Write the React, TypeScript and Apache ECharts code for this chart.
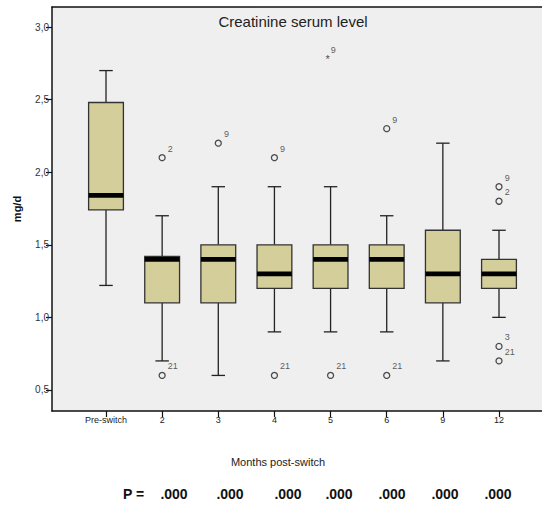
import React, { useEffect, useRef } from "react";
import * as echarts from "echarts";

const categories = ["Pre-switch", "2", "3", "4", "5", "6", "9", "12"];
const whiskerLow = [1.22, 0.7, 0.6, 0.9, 0.9, 0.9, 0.7, 1.0];
const q1 = [1.74, 1.1, 1.1, 1.2, 1.2, 1.2, 1.1, 1.2];
const median = [1.84, 1.4, 1.4, 1.3, 1.4, 1.4, 1.3, 1.3];
const q3 = [2.48, 1.42, 1.5, 1.5, 1.5, 1.5, 1.6, 1.4];
const whiskerHigh = [2.7, 1.7, 1.9, 1.9, 1.9, 1.7, 2.2, 1.6];

const outlierCat = [1, 1, 2, 3, 3, 4, 5, 5, 7, 7, 7, 7];
const outlierValue = [2.1, 0.6, 2.2, 2.1, 0.6, 0.6, 2.3, 0.6, 1.9, 1.8, 0.8, 0.7];
const outlierCase = ["2", "21", "9", "9", "21", "21", "9", "21", "9", "2", "3", "21"];

const extremeCat = [4];
const extremeValue = [2.8];
const extremeCase = ["9"];

const yTicks = [0.5, 1.0, 1.5, 2.0, 2.5, 3.0];
const pValues = [".000", ".000", ".000", ".000", ".000", ".000", ".000"];
const pCenters = [174, 230, 288, 339, 392, 445, 498];

const FONT = "'Liberation Sans', Arial, sans-serif";

export default function App() {
  const ref = useRef<HTMLDivElement>(null);
  useEffect(() => {
    if (!ref.current) return;
    const chart = echarts.init(ref.current, null, { renderer: "svg" });
    const boxData = categories.map((_, i) => [i, whiskerLow[i], q1[i], median[i], q3[i], whiskerHigh[i]]);
    const outData = outlierCat.map((c, i) => ({ value: [c, outlierValue[i]], name: outlierCase[i] }));
    const extData = extremeCat.map((c, i) => ({ value: [c, extremeValue[i]], name: extremeCase[i] }));
    const xMin = -0.962;
    const xMax = 7.766;
    const option: any = {
      animation: false,
      backgroundColor: "#ffffff",
      grid: {
        left: 52,
        right: 0,
        top: 7,
        bottom: 97,
        show: true,
        backgroundColor: "#efefef",
        borderWidth: 0,
      },
      xAxis: [
        {
          type: "value",
          min: xMin,
          max: xMax,
          splitLine: { show: false },
          axisLine: { show: true, onZero: false, lineStyle: { color: "#111", width: 1.5 } },
          axisTick: {
            show: true,
            length: 6,
            customValues: categories.map((_, i) => i),
            lineStyle: { color: "#111", width: 1.2 },
          },
          axisLabel: {
            customValues: categories.map((_, i) => i),
            formatter: (v: number) => categories[Math.round(v)] ?? "",
            fontFamily: FONT,
            fontSize: 9,
            color: "#222",
            margin: 4,
          },
        },
        {
          type: "value",
          position: "top",
          min: xMin,
          max: xMax,
          splitLine: { show: false },
          axisLine: { show: true, onZero: false, lineStyle: { color: "#111", width: 1.5 } },
          axisTick: { show: false },
          axisLabel: { show: false },
        },
      ],
      yAxis: {
        type: "value",
        min: 0.355,
        max: 3.138,
        name: "mg/d",
        nameLocation: "middle",
        nameGap: 30,
        nameTextStyle: { fontFamily: FONT, fontSize: 11, fontWeight: "bold", color: "#111" },
        splitLine: { show: false },
        axisLine: { show: true, onZero: false, lineStyle: { color: "#111", width: 1.5 } },
        axisTick: { show: true, length: 6, customValues: yTicks, lineStyle: { color: "#111", width: 1.2 } },
        axisLabel: {
          customValues: yTicks,
          formatter: (v: number) => v.toFixed(1).replace(".", ","),
          fontFamily: FONT,
          fontSize: 10,
          color: "#333",
          margin: 3,
        },
      },
      series: [
        {
          type: "custom",
          data: boxData,
          clip: false,
          renderItem: (params: any, api: any) => {
            const x = api.value(0);
            const band = api.size([1, 0])[0];
            const bw = band * 0.62;
            const cw = band * 0.24;
            const pMin = api.coord([x, api.value(1)]);
            const pQ1 = api.coord([x, api.value(2)]);
            const pMed = api.coord([x, api.value(3)]);
            const pQ3 = api.coord([x, api.value(4)]);
            const pMax = api.coord([x, api.value(5)]);
            const cx = pMin[0];
            const lineStyle = { stroke: "#222", lineWidth: 1.3 };
            return {
              type: "group",
              children: [
                { type: "line", shape: { x1: cx, y1: pMax[1], x2: cx, y2: pQ3[1] }, style: lineStyle },
                { type: "line", shape: { x1: cx, y1: pQ1[1], x2: cx, y2: pMin[1] }, style: lineStyle },
                { type: "line", shape: { x1: cx - cw / 2, y1: pMax[1], x2: cx + cw / 2, y2: pMax[1] }, style: lineStyle },
                { type: "line", shape: { x1: cx - cw / 2, y1: pMin[1], x2: cx + cw / 2, y2: pMin[1] }, style: lineStyle },
                {
                  type: "rect",
                  shape: { x: cx - bw / 2, y: pQ3[1], width: bw, height: pQ1[1] - pQ3[1] },
                  style: { fill: "#d4ce9b", stroke: "#333", lineWidth: 1.3 },
                },
                {
                  type: "rect",
                  shape: { x: cx - bw / 2, y: pMed[1] - 2.4, width: bw, height: 4.8 },
                  style: { fill: "#000" },
                },
              ],
            };
          },
        },
        {
          type: "scatter",
          data: outData,
          symbol: "circle",
          symbolSize: 6,
          itemStyle: { color: "#efefef", borderColor: "#222", borderWidth: 1.3 },
          label: {
            show: true,
            position: "right",
            distance: 2,
            offset: [0, -9],
            formatter: (p: any) => p.name,
            fontFamily: FONT,
            fontSize: 9,
            color: "#333",
            textBorderWidth: 0,
          },
        },
        {
          type: "scatter",
          data: extData,
          symbol: "circle",
          symbolSize: 1,
          itemStyle: { color: "rgba(0,0,0,0)" },
          label: {
            show: true,
            position: "inside",
            formatter: (p: any) => "{s|*}{n|" + p.name + "}",
            rich: {
              s: { fontFamily: FONT, fontSize: 11, color: "#222", padding: [6, 0, 0, 0] },
              n: { fontFamily: FONT, fontSize: 9, color: "#333", padding: [0, 0, 12, 1] },
            },
          },
        },
      ],
      graphic: [
        {
          type: "text",
          x: 293,
          y: 21,
          style: {
            text: "Creatinine serum level",
            font: "15px " + FONT,
            fill: "#222",
            textAlign: "center",
            textVerticalAlign: "middle",
          },
        },
        {
          type: "text",
          x: 278,
          y: 462,
          style: {
            text: "Months post-switch",
            font: "11px " + FONT,
            fill: "#222",
            textAlign: "center",
            textVerticalAlign: "middle",
          },
        },
        {
          type: "text",
          x: 123,
          y: 494,
          style: {
            text: "P =",
            font: "bold 14px " + FONT,
            fill: "#111",
            textAlign: "left",
            textVerticalAlign: "middle",
          },
        },
        ...pValues.map((t, i) => ({
          type: "text",
          x: pCenters[i],
          y: 494,
          style: {
            text: t,
            font: "bold 14px " + FONT,
            fill: "#111",
            textAlign: "center",
            textVerticalAlign: "middle",
          },
        })),
      ],
    };
    chart.setOption(option);
    return () => chart.dispose();
  }, []);
  return (
    <div
      ref={ref}
      style={{ position: "fixed", left: 0, top: 0, width: 542, height: 508, background: "#fff" }}
    />
  );
}
